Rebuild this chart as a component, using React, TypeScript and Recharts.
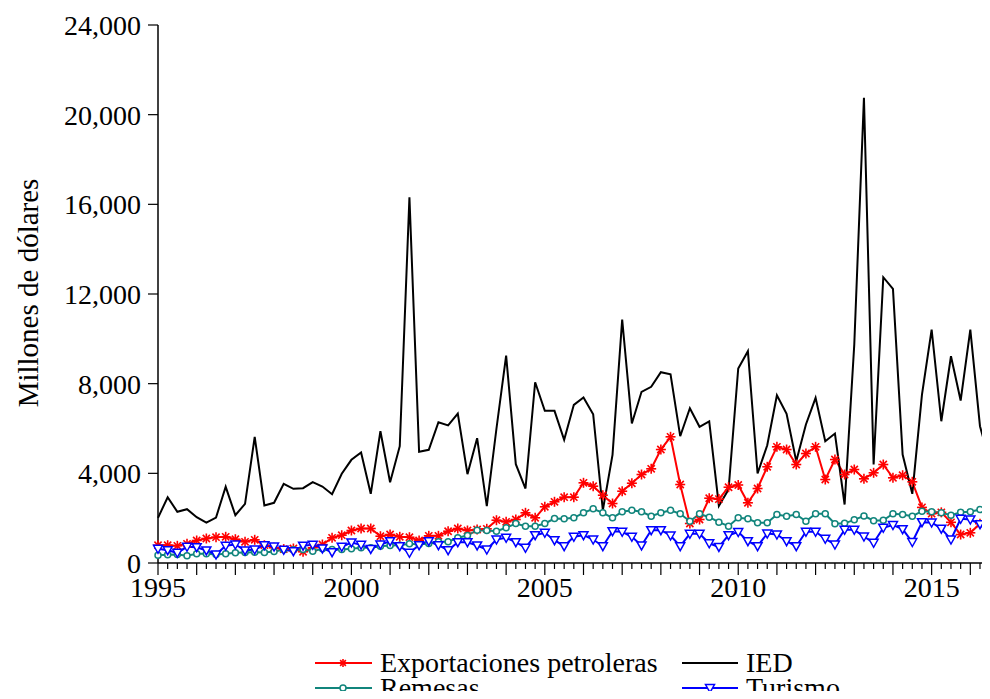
import React from "react";
import { LineChart, Line, XAxis, YAxis } from "recharts";

// quarterly series, 1995Q1 .. 2016Q3, millions of dollars
const START_YEAR = 1995;

const exportaciones: number[] = [
  794, 794, 767, 856, 1004, 1093, 1151, 1169, 1062, 946, 1035, 794,
  678, 620, 647, 500, 678, 825, 1124, 1240, 1450, 1539, 1539, 1195,
  1271, 1169, 1151, 1004, 1213, 1213, 1418, 1539, 1450, 1494, 1525, 1909,
  1838, 1940, 2239, 2016, 2507, 2730, 2935, 2935, 3577, 3426, 3024, 2654,
  3202, 3559, 3947, 4202, 5062, 5629, 3501, 1762, 1940, 2890, 2850, 3380,
  3480, 2685, 3323, 4291, 5183, 5062, 4393, 4884, 5183, 3724, 4616, 3947,
  4170, 3755, 4023, 4393, 3800, 3916, 3622, 2480, 2200, 2260, 1815, 1270,
  1347, 1755, 1980,
];

const ied: number[] = [
  2016, 2935, 2284, 2400, 2043, 1806, 2029, 3399, 2132, 2640, 5629, 2565,
  2685, 3533, 3310, 3336, 3604, 3412, 3069, 3979, 4603, 4929, 3087, 5879,
  3604, 5210, 16316, 4960, 5049, 6280, 6140, 6668, 3961, 5567, 2533, 6000,
  9255, 4407, 3323, 8064, 6789, 6789, 5495, 7056, 7382, 6637, 2355, 4826,
  10861, 6222, 7636, 7859, 8510, 8421, 5656, 6905, 6075, 6320, 2550, 3280,
  8676, 9447, 3992, 5254, 7484, 6655, 4541, 6177, 7368, 5433, 5776, 2610,
  9746, 20749, 4393, 12748, 12230, 4839, 3086, 7515, 10415, 6324, 9224, 7248,
  10415, 6102, 4541,
];

const remesas: number[] = [
  348, 366, 379, 321, 410, 410, 379, 410, 455, 468, 482, 468,
  513, 588, 588, 602, 526, 633, 602, 602, 633, 678, 678, 749,
  781, 794, 856, 825, 870, 946, 946, 1124, 1227, 1463, 1450, 1418,
  1570, 1762, 1641, 1641, 1762, 1985, 1971, 2016, 2239, 2418, 2239, 2016,
  2284, 2355, 2284, 2087, 2239, 2355, 2194, 1864, 2194, 2043, 1820, 1641,
  2016, 1971, 1793, 1793, 2163, 2087, 2163, 1864, 2194, 2194, 1748, 1770,
  1925, 2100, 1885, 1909, 2200, 2163, 2087, 2310, 2284, 2239, 2132, 2266,
  2284, 2386, 2462,
];

const turismo: number[] = [
  633, 571, 455, 723, 705, 558, 379, 767, 825, 558, 602, 794,
  736, 588, 526, 770, 810, 650, 480, 723, 915, 810, 625, 825,
  972, 749, 455, 794, 972, 794, 571, 928, 928, 781, 602, 1048,
  1124, 928, 678, 1240, 1347, 1017, 749, 1169, 1240, 1048, 749, 1418,
  1392, 1169, 781, 1463, 1463, 1227, 749, 1302, 1302, 880, 715, 1240,
  1383, 972, 749, 1316, 1271, 972, 749, 1392, 1392, 1079, 825, 1480,
  1480, 1182, 900, 1570, 1695, 1510, 936, 1820, 1806, 1532, 1048, 1971,
  1940, 1732, 1233,
];

const yTicks: number[] = [0, 4000, 8000, 12000, 16000, 20000, 24000];
const xLabelYears: number[] = [1995, 2000, 2005, 2010, 2015];
const X_END = 2017;

const rows = ied.map((v, i) => ({
  t: START_YEAR + i / 4,
  exportaciones: exportaciones[i],
  ied: v,
  remesas: remesas[i],
  turismo: turismo[i],
}));

// one tick per quarter; long ticks on the years
const xTicks: number[] = [];
for (let q = 0; q <= (X_END - START_YEAR) * 4; q++) xTicks.push(START_YEAR + q / 4);

const FONT = "'Liberation Serif', 'Times New Roman', serif";
const RED = "#ff0000";
const TEAL = "#11857c";
const BLUE = "#0000ff";

const QuarterTick = (props: any) => {
  const { x, y, payload } = props;
  const major = Number.isInteger(payload.value);
  const labelled = xLabelYears.includes(payload.value);
  return (
    <g>
      <line x1={x} x2={x} y1={y} y2={y + (major ? 12 : 6)} stroke="#000" strokeWidth={1.2} />
      {labelled && (
        <text x={x} y={y + 34} textAnchor="middle" fontSize={28} fontFamily={FONT} fill="#000">
          {payload.value}
        </text>
      )}
    </g>
  );
};

const Asterisk = ({ cx, cy, s = 5 }: { cx: number; cy: number; s?: number }) => {
  const d = s * 0.72;
  return (
    <g stroke={RED} strokeWidth={1.6}>
      <line x1={cx - s} x2={cx + s} y1={cy} y2={cy} />
      <line x1={cx} x2={cx} y1={cy - s} y2={cy + s} />
      <line x1={cx - d} x2={cx + d} y1={cy - d} y2={cy + d} />
      <line x1={cx - d} x2={cx + d} y1={cy + d} y2={cy - d} />
    </g>
  );
};

const Ring = ({ cx, cy }: { cx: number; cy: number }) => (
  <circle cx={cx} cy={cy} r={3} fill="#fff" stroke={TEAL} strokeWidth={1.5} />
);

const DownTriangle = ({ cx, cy }: { cx: number; cy: number }) => (
  <path
    d={`M${cx - 4.5},${cy - 3.5} L${cx + 4.5},${cy - 3.5} L${cx},${cy + 4.5} Z`}
    fill="#fff"
    stroke={BLUE}
    strokeWidth={1.5}
  />
);

const Legend = () => (
  <svg width={990} height={70} style={{ position: "absolute", left: 0, top: 635 }}>
    <g fontFamily={FONT} fontSize={28} fill="#000">
      <line x1={315} x2={372} y1={28} y2={28} stroke={RED} strokeWidth={2} />
      <Asterisk cx={343} cy={28} s={4} />
      <text x={380} y={37}>Exportaciones petroleras</text>
      <line x1={682} x2={738} y1={28} y2={28} stroke="#000" strokeWidth={2} />
      <text x={746} y={37}>IED</text>
      <line x1={315} x2={372} y1={53} y2={53} stroke={TEAL} strokeWidth={2} />
      <Ring cx={343} cy={53} />
      <text x={380} y={62}>Remesas</text>
      <line x1={682} x2={738} y1={53} y2={53} stroke={BLUE} strokeWidth={2} />
      <DownTriangle cx={710} cy={53} />
      <text x={746} y={62}>Turismo</text>
    </g>
  </svg>
);

export default function App() {
  return (
    <div
      style={{
        position: "relative",
        margin: -8,
        width: 990,
        height: 699,
        overflow: "hidden",
        background: "#fff",
      }}
    >
      <LineChart
        width={1020}
        height={699}
        data={rows}
        margin={{ top: 25, right: 11, bottom: 96, left: 0 }}
      >
        <XAxis
          dataKey="t"
          type="number"
          domain={[START_YEAR, X_END]}
          ticks={xTicks}
          interval={0}
          tickLine={false}
          tickSize={0}
          tickMargin={0}
          tick={<QuarterTick />}
          height={40}
          axisLine={{ stroke: "#000", strokeWidth: 1.5 }}
        />
        <YAxis
          domain={[0, 24000]}
          ticks={yTicks}
          width={158}
          tickSize={10}
          tickMargin={7}
          tickFormatter={(v: number) => v.toLocaleString("en-US")}
          tick={{ fontSize: 28, fill: "#000", fontFamily: FONT }}
          tickLine={{ stroke: "#000", strokeWidth: 1.2 }}
          axisLine={{ stroke: "#000", strokeWidth: 1.5 }}
        />
        <Line
          dataKey="exportaciones"
          stroke={RED}
          strokeWidth={2}
          isAnimationActive={false}
          dot={(p: any) => <Asterisk key={p.index} cx={p.cx} cy={p.cy} />}
        />
        <Line
          dataKey="ied"
          stroke="#000"
          strokeWidth={2}
          dot={false}
          isAnimationActive={false}
        />
        <Line
          dataKey="remesas"
          stroke={TEAL}
          strokeWidth={2}
          isAnimationActive={false}
          dot={(p: any) => <Ring key={p.index} cx={p.cx} cy={p.cy} />}
        />
        <Line
          dataKey="turismo"
          stroke={BLUE}
          strokeWidth={2}
          isAnimationActive={false}
          dot={(p: any) => <DownTriangle key={p.index} cx={p.cx} cy={p.cy} />}
        />
      </LineChart>
      <svg width={80} height={699} style={{ position: "absolute", left: 0, top: 0 }}>
        <text
          transform="translate(38,293) rotate(-90)"
          textAnchor="middle"
          fontFamily={FONT}
          fontSize={29}
          fill="#000"
        >
          Millones de dólares
        </text>
      </svg>
      <Legend />
    </div>
  );
}
